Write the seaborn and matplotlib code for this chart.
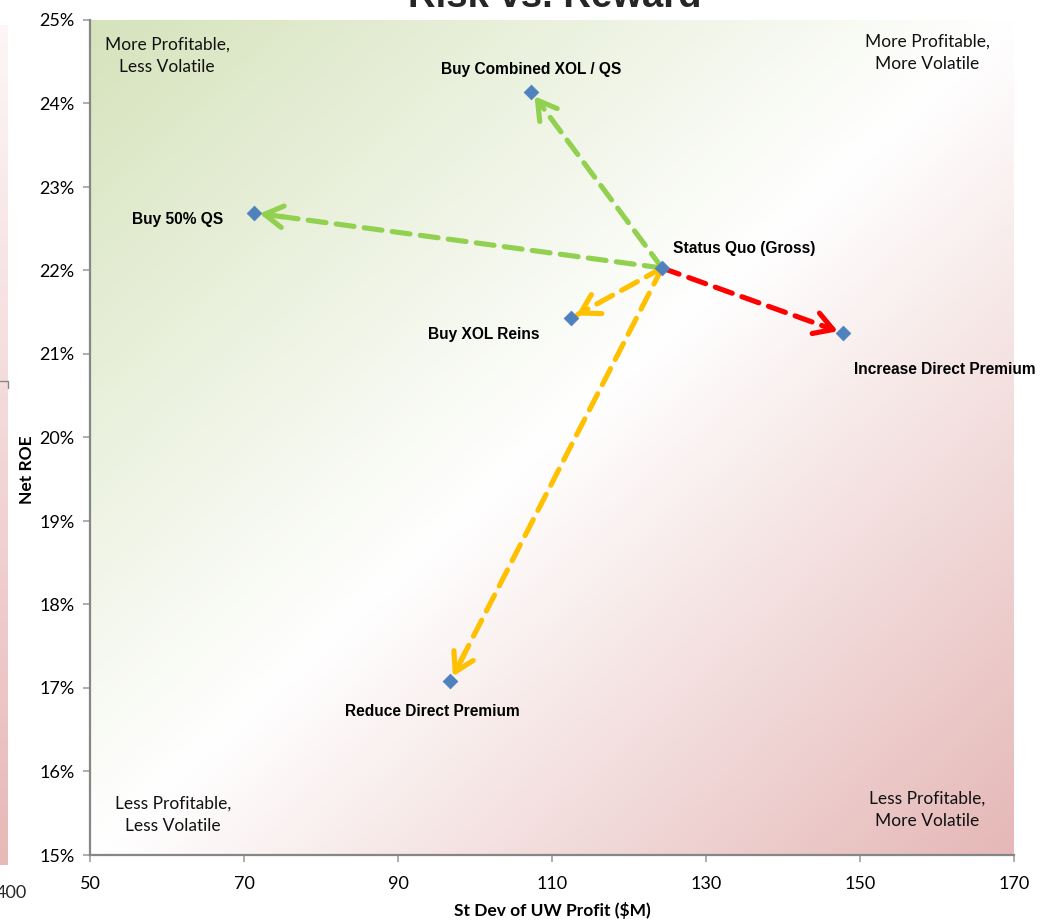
import numpy as np
import pandas as pd
import seaborn as sns
import matplotlib.pyplot as plt
from matplotlib.colors import LinearSegmentedColormap

# data
names = ['Status Quo (Gross)', 'Buy Combined XOL / QS', 'Buy 50% QS',
         'Buy XOL Reins', 'Increase Direct Premium', 'Reduce Direct Premium']
st_dev = [124.3, 107.3, 71.3, 112.5, 147.8, 96.8]
net_roe = [22.03, 24.14, 22.69, 21.43, 21.25, 17.08]
arrow_colors = [None, '#92D050', '#92D050', '#FFC000', '#FF0000', '#FFC000']

x_ticks = [50, 70, 90, 110, 130, 150, 170]
y_ticks = [15, 16, 17, 18, 19, 20, 21, 22, 23, 24, 25]

df = pd.DataFrame({'name': names, 'sd': st_dev, 'roe': net_roe})

sns.set_theme(style='white')
plt.rcParams['font.family'] = ['Lato', 'DejaVu Sans']

fig = plt.figure(figsize=(10.43, 9.23), dpi=100)

# edge of another chart peeking in on the left
strip = fig.add_axes([0, 1-865/923, 8/1043, 840/923])
strip.imshow(np.linspace(0, 1, 100)[:, None],
             cmap=LinearSegmentedColormap.from_list('s', ['#FDF6F6', '#E8B9B9']),
             aspect='auto', origin='upper')
strip.axis('off')
fig.add_artist(plt.Line2D([0, 8/1043, 8/1043], [1-381/923, 1-381/923, 1-388/923],
                          color='#868686', lw=1, transform=fig.transFigure))

ax = fig.add_axes([90/1043, 1-855/923, 924/1043, 835/923])

# diagonal background gradient: green top-left -> white -> pink bottom-right
cmap = LinearSegmentedColormap.from_list('bg', ['#D6E3BC', '#FFFFFF', '#E5B8B7'])
u = np.linspace(0, 1, 300)
uu, rr = np.meshgrid(u, u)
ax.imshow((uu + rr) / 2, cmap=cmap, extent=[50, 170, 15, 25], origin='upper',
          aspect='auto', zorder=0, interpolation='bilinear')

# dashed arrows from status quo
x0, y0 = st_dev[0], net_roe[0]
for xi, yi, c in zip(st_dev[1:], net_roe[1:], arrow_colors[1:]):
    ax.annotate('', xy=(xi, yi), xytext=(x0, y0),
                arrowprops=dict(arrowstyle='-', color=c, lw=3.7, ls=(0, (3.5, 2)),
                                shrinkA=0, shrinkB=9), zorder=2)
    ax.annotate('', xy=(xi, yi), xytext=(x0 + (xi - x0) * 0.93, y0 + (yi - y0) * 0.93),
                arrowprops=dict(arrowstyle='->,head_length=1.1,head_width=0.65', color=c,
                                lw=3.7, shrinkA=0, shrinkB=4), zorder=2)

sns.scatterplot(data=df, x='sd', y='roe', marker='D', s=55, color='#4F81BD',
                edgecolor='#4F81BD', ax=ax, zorder=3)

# point labels
offsets = {
    'Status Quo (Gross)': ((8, 14), 'left', 'center'),
    'Buy Combined XOL / QS': ((0, 16), 'center', 'center'),
    'Buy 50% QS': ((-22, -5), 'right', 'center'),
    'Buy XOL Reins': ((-23, -12), 'right', 'center'),
    'Increase Direct Premium': ((8, -26), 'left', 'center'),
    'Reduce Direct Premium': ((-13, -22), 'center', 'center'),
}
for n, xi, yi in zip(names, st_dev, net_roe):
    off, ha, va = offsets[n]
    ax.annotate(n, (xi, yi), xytext=off, textcoords='offset points', ha=ha, va=va,
                fontsize=11.2, fontweight='bold', family='Liberation Sans',
                color='black', zorder=4)

# quadrant notes
qfont = dict(fontsize=12.5, color='#111111', ha='center', va='center', linespacing=1.45)
ax.text(77/924, 1-36/835, 'More Profitable,\nLess Volatile', transform=ax.transAxes, **qfont)
ax.text(837/924, 1-33/835, 'More Profitable,\nMore Volatile', transform=ax.transAxes, **qfont)
ax.text(83/924, 1-795/835, 'Less Profitable,\nLess Volatile', transform=ax.transAxes, **qfont)
ax.text(837/924, 1-790/835, 'Less Profitable,\nMore Volatile', transform=ax.transAxes, **qfont)

ax.set_xlim(50, 170)
ax.set_ylim(15, 25)
ax.set_xticks(x_ticks)
ax.set_yticks(y_ticks)
ax.set_yticklabels([f'{t}%' for t in y_ticks])
ax.tick_params(axis='both', which='both', length=5, width=1.2, color='#A0A0A0',
               direction='out', labelsize=13, pad=6, left=True, bottom=True,
               labelcolor='black')
ax.tick_params(axis='x', pad=10)
for s in ['top', 'right']:
    ax.spines[s].set_visible(False)
for s in ['left', 'bottom']:
    ax.spines[s].set_color('#868686')
    ax.spines[s].set_linewidth(1.6)

ax.set_xlabel('St Dev of UW Profit ($M)', fontsize=12.5, fontweight='bold', color='black')
ax.xaxis.set_label_coords(462/924, -(902-855)/835)
ax.set_ylabel('Net ROE', fontsize=12.5, fontweight='bold', color='black')
ax.yaxis.set_label_coords(-(90-35)/924, 1-(470-20)/835)

fig.text(555/1043, 1-7/923, 'Risk vs. Reward', ha='center', va='baseline',
         fontsize=27.5, fontweight='bold', family='Liberation Sans')
fig.text(-4/1043, 1-893/923, '400', fontsize=13, va='center', ha='left')

fig.savefig('out.png', dpi=100)
